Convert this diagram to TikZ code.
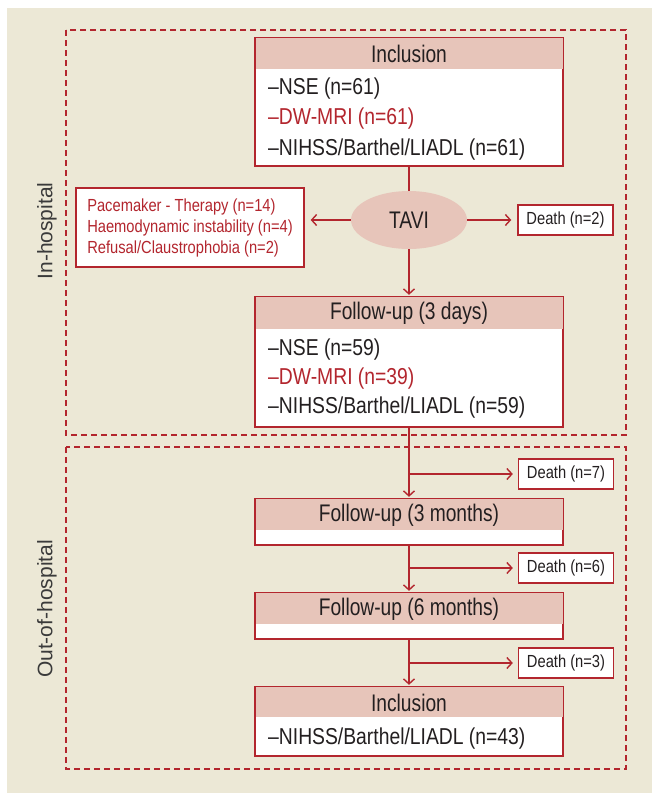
\documentclass[tikz,border=0pt]{standalone}
\usepackage{fontspec}
\setmainfont{Liberation Sans}
\newfontfamily\cond[FakeStretch=0.84]{Liberation Sans}
\newfontfamily\condh[FakeStretch=0.8]{Liberation Sans}
\usetikzlibrary{arrows.meta,shapes.geometric,calc}
\definecolor{beige}{HTML}{ECE8D6}
\definecolor{dred}{HTML}{B3262E}
\definecolor{pinkh}{HTML}{E7C5BA}
\definecolor{txt}{HTML}{231F20}
\definecolor{side}{HTML}{3A3A3A}
\tikzset{
  mainbox/.style={draw=dred,line width=1.4pt,fill=white,rectangle,minimum width=307pt,inner sep=0pt},
  headtxt/.style={font=\condh\fontsize{24}{27}\selectfont,text=txt,inner sep=0pt},
  bodytxt/.style={font=\cond\fontsize{23}{26}\selectfont,text=txt,anchor=west,inner sep=0pt},
  deathbox/.style={draw=dred,line width=1.4pt,fill=white,rectangle,minimum width=95pt,minimum height=30pt,inner sep=0pt,font=\cond\fontsize{17.5}{20}\selectfont,text=txt},
  zone/.style={draw=dred,line width=1.2pt,dash pattern=on 6pt off 4pt},
  sidelbl/.style={font=\fontsize{21}{24}\selectfont,text=side,rotate=90,inner sep=0pt},
  conn/.style={draw=dred,line width=1.4pt},
  arr/.style={conn,-{Straight Barb[length=5pt,width=11pt,line width=1.4pt]}},
}
\begin{document}
\begin{tikzpicture}[x=1pt,y=-1pt]
\useasboundingbox (0,0) rectangle (652,793);
\fill[white] (0,0) rectangle (652,793);
\fill[beige] (7,8) rectangle (652,793);
% zones
\draw[zone] (66,30) rectangle (626,435);
\draw[zone] (66,447) rectangle (626,769);
\node[sidelbl] (lin) at (47,231) {In-hospital};
\node[sidelbl] (lout) at (47,609) {Out-of-hospital};

% Inclusion box
\node[mainbox,minimum height=128pt] (inc) at (409,102) {};
\fill[pinkh] ($(inc.north west)+(0.7,0.7)$) rectangle ($(inc.north east)+(-0.7,32)$);
\draw[dred,line width=1.4pt] (inc.north west) rectangle (inc.south east);
\node[headtxt] (inch) at (409,54) {Inclusion};
\node[bodytxt] (inc1) at (268,89) {–NSE (n=61)};
\node[bodytxt,text=dred] (inc2) at (268,119) {–DW-MRI (n=61)};
\node[bodytxt] (inc3) at (268,150) {–NIHSS/Barthel/LIADL (n=61)};

% TAVI
\node[ellipse,fill=pinkh,minimum width=116pt,minimum height=58pt,inner sep=0pt,
      font=\condh\fontsize{24}{27}\selectfont,text=txt] (tavi) at (409,220) {TAVI};

% Reasons box
\node[draw=dred,line width=1.4pt,fill=white,rectangle,minimum width=228pt,minimum height=79pt,
      inner sep=0pt,align=left,text=dred,font=\cond\fontsize{17.5}{21}\selectfont] (reas) at (190,227.5)
      {Pacemaker - Therapy (n=14)\\Haemodynamic instability (n=4)\\Refusal/Claustrophobia (n=2)};

\node[deathbox] (d2) at (565.5,220) {Death (n=2)};

% Follow-up 3 days
\node[mainbox,minimum height=130pt] (fu3d) at (409,362) {};
\fill[pinkh] ($(fu3d.north west)+(0.7,0.7)$) rectangle ($(fu3d.north east)+(-0.7,33)$);
\draw[dred,line width=1.4pt] (fu3d.north west) rectangle (fu3d.south east);
\node[headtxt] (fu3dh) at (409,313) {Follow-up (3 days)};
\node[bodytxt] (fu3d1) at (268,350) {–NSE (n=59)};
\node[bodytxt,text=dred] (fu3d2) at (268,379) {–DW-MRI (n=39)};
\node[bodytxt] (fu3d3) at (268,408) {–NIHSS/Barthel/LIADL (n=59)};

% Follow-up 3 months
\node[mainbox,minimum height=46pt] (fu3m) at (409,522) {};
\fill[pinkh] ($(fu3m.north west)+(0.7,0.7)$) rectangle ($(fu3m.north east)+(-0.7,32)$);
\draw[dred,line width=1.4pt] (fu3m.north west) rectangle (fu3m.south east);
\node[headtxt] (fu3mh) at (409,515) {Follow-up (3 months)};

% Follow-up 6 months
\node[mainbox,minimum height=46pt] (fu6m) at (409,616) {};
\fill[pinkh] ($(fu6m.north west)+(0.7,0.7)$) rectangle ($(fu6m.north east)+(-0.7,32)$);
\draw[dred,line width=1.4pt] (fu6m.north west) rectangle (fu6m.south east);
\node[headtxt] (fu6mh) at (409,609) {Follow-up (6 months)};

% Final inclusion
\node[mainbox,minimum height=69pt] (inc2b) at (409,721.5) {};
\fill[pinkh] ($(inc2b.north west)+(0.7,0.7)$) rectangle ($(inc2b.north east)+(-0.7,31)$);
\draw[dred,line width=1.4pt] (inc2b.north west) rectangle (inc2b.south east);
\node[headtxt] (inc2bh) at (409,703) {Inclusion};
\node[bodytxt] (inc2b1) at (268,739) {–NIHSS/Barthel/LIADL (n=43)};

% Death boxes
\node[deathbox] (d7) at (566,474) {Death (n=7)};
\node[deathbox] (d6) at (566,568) {Death (n=6)};
\node[deathbox] (d3) at (566,663) {Death (n=3)};

% Connectors
\draw[conn] (inc.south) -- (tavi.north);
\draw[arr,shorten >=1.5pt] (tavi.south) -- (fu3d.north);
\draw[arr,shorten >=6pt] (tavi.west) -- (tavi.west -| reas.east);
\draw[arr,shorten >=6pt] (tavi.east) -- (d2.west);

\draw[arr,shorten >=1.5pt] (fu3d.south) -- (fu3m.north);
\coordinate (b7) at (fu3d.south |- d7.west);
\draw[arr,shorten >=5pt] (b7) -- (d7.west);

\draw[arr,shorten >=1.5pt] (fu3m.south) -- (fu6m.north);
\coordinate (b6) at (fu3m.south |- d6.west);
\draw[arr,shorten >=5pt] (b6) -- (d6.west);

\draw[arr,shorten >=1.5pt] (fu6m.south) -- (inc2b.north);
\coordinate (b3) at (fu6m.south |- d3.west);
\draw[arr,shorten >=5pt] (b3) -- (d3.west);
\end{tikzpicture}
\end{document}
